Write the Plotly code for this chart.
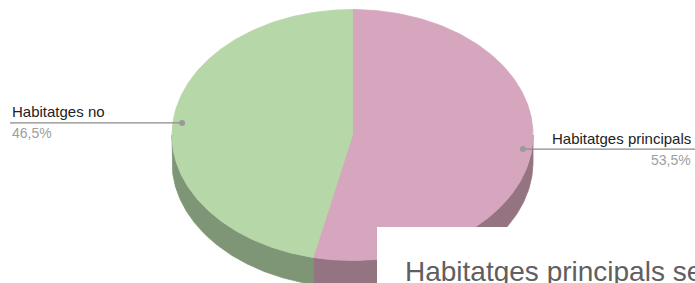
import numpy as np
import plotly.graph_objects as go

# ---- data ----
labels = ["Habitatges principals", "Habitatges no"]
values = [53.5, 46.5]
top_colors = ["#d5a6bd", "#b6d7a8"]
side_colors = ["#957482", "#7f9676"]
title_text = "Habitatges principals se"

# ---- geometry (pixel space) ----
W, H = 695, 283
cx, cy = 352.5, 135.0
rx, ry = 180.5, 125.5
depth = 27.0

def pt(theta_deg, k=1.0, dy=0.0):
    t = np.radians(theta_deg)
    return cx + k * rx * np.sin(t), cy - k * ry * np.cos(t) + dy

total = float(sum(values))
fig = go.Figure()

# slice angular spans (clockwise from 12 o'clock)
spans = []
a = 0.0
for v in values:
    b = a + 360.0 * v / total
    spans.append((a, b))
    a = b

# sides (front half only: 90..270 deg)
for (a0, a1), col in zip(spans, side_colors):
    s0, s1 = max(a0, 90.0), min(a1, 270.0)
    if s1 <= s0:
        continue
    th = np.linspace(s0, s1, 120)
    xt, yt = pt(th)
    xb, yb = pt(th[::-1], dy=depth)
    xs = np.concatenate([xt, xb, xt[:1]])
    ys = np.concatenate([yt, yb, yt[:1]])
    fig.add_trace(go.Scatter(x=xs, y=ys, fill="toself", fillcolor=col,
                             line=dict(color=col, width=0.8), mode="lines",
                             hoverinfo="skip", showlegend=False))

# tops
for (a0, a1), col in zip(spans, top_colors):
    th = np.linspace(a0, a1, 240)
    xa, ya = pt(th)
    xs = np.concatenate([[cx], xa, [cx]])
    ys = np.concatenate([[cy], ya, [cy]])
    fig.add_trace(go.Scatter(x=xs, y=ys, fill="toself", fillcolor=col,
                             line=dict(color=col, width=0.8), mode="lines",
                             hoverinfo="skip", showlegend=False))

# leader lines + labels
annotations = []
for (a0, a1), lab, v in zip(spans, labels, values):
    mid = (a0 + a1) / 2.0
    dx_, dy_ = pt(mid, k=0.95)
    pct = f"{100.0 * v / total:.1f}".replace(".", ",") + "%"
    if np.sin(np.radians(mid)) >= 0:   # right side
        x_end, anchor, xt = W, "right", W - 2
    else:
        x_end, anchor, xt = 10, "left", 10
    fig.add_trace(go.Scatter(x=[x_end, dx_], y=[dy_ + 1, dy_ + 1], mode="lines",
                             line=dict(color="#8a8a8a", width=1.2),
                             hoverinfo="skip", showlegend=False))
    fig.add_trace(go.Scatter(x=[dx_], y=[dy_ + 1], mode="markers",
                             marker=dict(color="#9a9a9a", size=6),
                             hoverinfo="skip", showlegend=False))
    annotations.append(dict(x=xt, y=dy_ - 10, xref="x", yref="y", text=lab,
                            showarrow=False, xanchor=anchor, yanchor="middle",
                            font=dict(family="Arial, Liberation Sans", size=15, color="#222222")))
    annotations.append(dict(x=xt, y=dy_ + 11.5, xref="x", yref="y", text=pct,
                            showarrow=False, xanchor=anchor, yanchor="middle",
                            font=dict(family="Arial, Liberation Sans", size=14, color="#9e9e9e")))

# overlapping white card with title
shapes = [dict(type="rect", xref="x", yref="y", x0=377, x1=W + 5, y0=227, y1=H + 5,
               fillcolor="white", line=dict(width=0), layer="above")]
annotations.append(dict(x=403, y=271, xref="x", yref="y", text=title_text, showarrow=False,
                        xanchor="left", yanchor="middle",
                        font=dict(family="Arial, Liberation Sans", size=28, color="#5f5f5f")))

fig.update_layout(
    width=W, height=H, margin=dict(l=0, r=0, t=0, b=0),
    paper_bgcolor="white", plot_bgcolor="white",
    xaxis=dict(range=[0, W], visible=False, fixedrange=True),
    yaxis=dict(range=[H, 0], visible=False, fixedrange=True),
    shapes=shapes, annotations=annotations, showlegend=False,
)
fig.write_html("out.html", config={"displayModeBar": False},
               post_script="document.body.style.margin='0';document.body.style.overflow='hidden';")
